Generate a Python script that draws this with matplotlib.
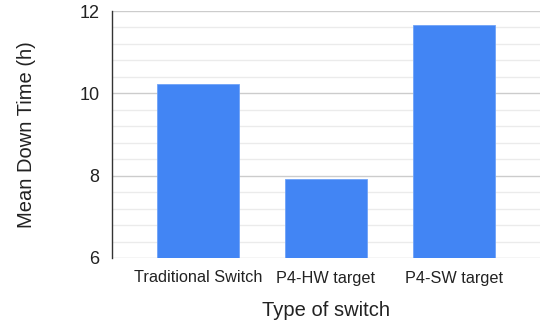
import matplotlib
matplotlib.use("Agg")
import matplotlib.pyplot as plt
from matplotlib.ticker import MultipleLocator

categories = ["Traditional Switch", "P4-HW target", "P4-SW target"]
values = [10.23, 7.93, 11.67]
yticks = [6, 8, 10, 12]

plt.rcParams['font.family'] = ['Liberation Sans', 'DejaVu Sans']

fig = plt.figure(figsize=(5.4, 3.23), dpi=100)
ax = fig.add_axes([112/540, 1-258/323, 1-112/540, (258-11)/323])

x = list(range(len(categories)))
ax.bar(x, values, width=0.64, bottom=0, color="#4285F4", edgecolor="#6fa3f7", linewidth=0.6, zorder=3)

ax.set_ylim(6, 12)
ax.set_xlim(-0.676, 2.676)
ax.set_yticks(yticks)
ax.yaxis.set_minor_locator(MultipleLocator(0.4))
ax.grid(axis='y', which='major', color='#cccccc', linewidth=1.0, zorder=0)
ax.grid(axis='y', which='minor', color='#ebebeb', linewidth=1.0, zorder=0)
ax.set_xticks(x)
ax.set_xticklabels(categories, fontsize=11.7, color='#222222')
ax.tick_params(axis='y', labelsize=13, length=0, pad=9, labelcolor='#222222', which='both')
ax.tick_params(axis='x', length=0, pad=9)
for s in ['top', 'right', 'bottom']:
    ax.spines[s].set_visible(False)
ax.spines['left'].set_color('#333333')
ax.spines['left'].set_linewidth(1.0)
ax.set_ylabel("Mean Down Time (h)", fontsize=14.5, color='#222222', labelpad=31)
ax.set_xlabel("Type of switch", fontsize=14.5, color='#222222', labelpad=11)

fig.savefig("out.png", dpi=100)
